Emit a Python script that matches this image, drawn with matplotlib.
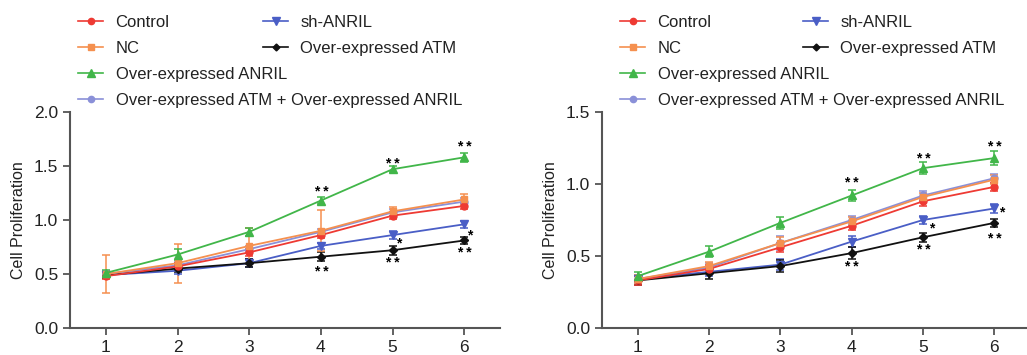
import matplotlib
matplotlib.use("Agg")
import matplotlib.pyplot as plt
from matplotlib.lines import Line2D

plt.rcParams['font.family'] = ['Liberation Sans', 'DejaVu Sans']

days = [1, 2, 3, 4, 5, 6]
labels = ["Control", "NC", "Over-expressed ANRIL",
          "Over-expressed ATM + Over-expressed ANRIL", "sh-ANRIL", "Over-expressed ATM"]
colors = ["#ee3a33", "#f5904f", "#41b649", "#8a90d8", "#4a5ec6", "#111111"]
markers = ["o", "s", "^", "o", "v", "D"]
msizes = [5, 5, 6, 5, 6, 4]

# Panel A values
a_control = [0.48, 0.57, 0.70, 0.86, 1.04, 1.13]
a_nc = [0.50, 0.60, 0.76, 0.90, 1.08, 1.19]
a_anril = [0.51, 0.68, 0.89, 1.18, 1.47, 1.58]
a_atm_anril = [0.50, 0.58, 0.73, 0.89, 1.07, 1.17]
a_sh = [0.49, 0.53, 0.60, 0.76, 0.86, 0.96]
a_atm = [0.49, 0.55, 0.60, 0.66, 0.72, 0.81]
a_err_control = [0.03, 0.03, 0.03, 0.03, 0.03, 0.03]
a_err_nc = [0.18, 0.18, 0.17, 0.19, 0.04, 0.05]
a_err_anril = [0.03, 0.05, 0.04, 0.03, 0.03, 0.04]
a_err_atm_anril = [0.03, 0.03, 0.03, 0.03, 0.03, 0.03]
a_err_sh = [0.03, 0.03, 0.04, 0.03, 0.04, 0.03]
a_err_atm = [0.03, 0.03, 0.04, 0.04, 0.04, 0.03]

# Panel B values
b_control = [0.33, 0.41, 0.56, 0.71, 0.88, 0.98]
b_nc = [0.34, 0.43, 0.59, 0.74, 0.91, 1.03]
b_anril = [0.36, 0.53, 0.73, 0.92, 1.11, 1.18]
b_atm_anril = [0.34, 0.42, 0.59, 0.75, 0.92, 1.04]
b_sh = [0.34, 0.39, 0.44, 0.60, 0.75, 0.83]
b_atm = [0.33, 0.38, 0.43, 0.52, 0.63, 0.73]
b_err_control = [0.03, 0.03, 0.03, 0.03, 0.03, 0.03]
b_err_nc = [0.03, 0.03, 0.04, 0.03, 0.03, 0.03]
b_err_anril = [0.03, 0.04, 0.04, 0.04, 0.04, 0.05]
b_err_atm_anril = [0.03, 0.03, 0.05, 0.03, 0.03, 0.03]
b_err_sh = [0.03, 0.03, 0.04, 0.04, 0.03, 0.03]
b_err_atm = [0.03, 0.04, 0.04, 0.04, 0.03, 0.03]

sig_days = [4, 5, 6]
a_sig_top = [1.26, 1.52, 1.68]
a_sig_bottom = [0.52, 0.60, 0.69]
a_star_pos = [(5.09, 0.78), (6.07, 0.86)]
b_sig_top = [1.01, 1.17, 1.26]
b_sig_bottom = [0.42, 0.54, 0.62]
b_star_pos = [(5.12, 0.69), (6.1, 0.80)]

fig = plt.figure(figsize=(10.27, 3.55), dpi=100)
spine_c = "#555555"

def panel(rect, series, errs, ymax, yticks, sig_top, sig_bottom, star_pos):
    ax = fig.add_axes(rect)
    order = [4, 5, 3, 0, 1, 2]
    for i in order:
        ax.errorbar(days, series[i], yerr=errs[i], color=colors[i], marker=markers[i],
                    markersize=msizes[i], linewidth=1.3, elinewidth=1.1, capsize=3,
                    capthick=1.1, zorder=3)
    for d, y in zip(sig_days, sig_top):
        ax.text(d, y, "* *", ha="center", va="center", fontsize=10, fontweight="bold")
    for d, y in zip(sig_days, sig_bottom):
        ax.text(d, y, "* *", ha="center", va="center", fontsize=10, fontweight="bold")
    for (x, y) in star_pos:
        ax.text(x, y, "*", ha="center", va="center", fontsize=10, fontweight="bold")
    ax.set_xlim(0.5, 6.5)
    ax.set_ylim(0, ymax)
    ax.set_xticks(days)
    ax.set_yticks(yticks)
    ax.set_yticklabels([f"{t:.1f}" for t in yticks])
    for s in ["top", "right"]:
        ax.spines[s].set_visible(False)
    for s in ["left", "bottom"]:
        ax.spines[s].set_color(spine_c)
        ax.spines[s].set_linewidth(1.5)
    ax.tick_params(axis="both", colors=spine_c, labelcolor="#222222", width=1.3,
                   length=5, labelsize=12.5, direction="out")
    ax.set_ylabel("Cell Proliferation", fontsize=11.5, color="#222222", labelpad=6)
    return ax

axA = panel([0.0682, 0.0761, 0.4187, 0.6085],
            [a_control, a_nc, a_anril, a_atm_anril, a_sh, a_atm],
            [a_err_control, a_err_nc, a_err_anril, a_err_atm_anril, a_err_sh, a_err_atm],
            2.0, [0.0, 0.5, 1.0, 1.5, 2.0], a_sig_top, a_sig_bottom, a_star_pos)
axB = panel([0.5862, 0.0761, 0.4168, 0.6085],
            [b_control, b_nc, b_anril, b_atm_anril, b_sh, b_atm],
            [b_err_control, b_err_nc, b_err_anril, b_err_atm_anril, b_err_sh, b_err_atm],
            1.5, [0.0, 0.5, 1.0, 1.5], b_sig_top, b_sig_bottom, b_star_pos)

def handle(i):
    return Line2D([], [], color=colors[i], marker=markers[i], markersize=msizes[i] - 0.5,
                  linewidth=1.2)

W, H = 1027, 355
def legends(x_col1, x_col2):
    common = dict(frameon=False, fontsize=12, handlelength=1.5, handletextpad=0.75,
                  labelspacing=0.66, borderpad=0, borderaxespad=0, loc="upper left")
    l1 = fig.legend([handle(i) for i in [0, 1, 2, 3]], [labels[i] for i in [0, 1, 2, 3]],
                    bbox_to_anchor=(x_col1 / W, 1 - 15 / H), **common)
    l2 = fig.legend([handle(i) for i in [4, 5]], [labels[i] for i in [4, 5]],
                    bbox_to_anchor=(x_col2 / W, 1 - 15 / H), **common)
    for l in (l1, l2):
        for t in l.get_texts():
            t.set_color("#222222")

legends(78, 263)
legends(620, 803)

fig.savefig("out.png", dpi=100)
